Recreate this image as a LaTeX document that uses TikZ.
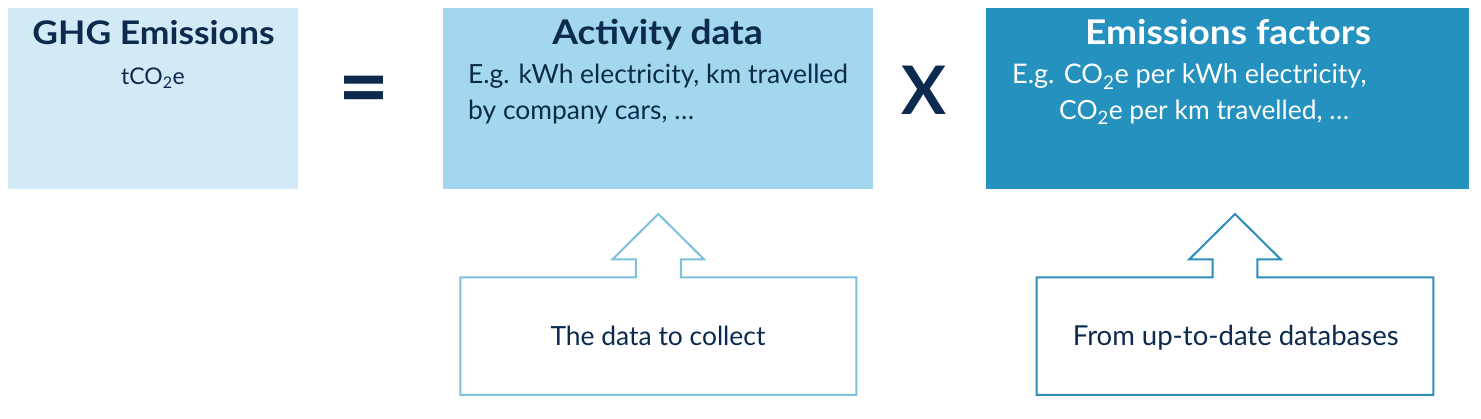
\documentclass[tikz,border=0pt]{standalone}
\usepackage{fontspec}
\setmainfont{Lato}
\newfontfamily\titlefont{Lato}[FakeStretch=1.09]
\usetikzlibrary{calc}
\definecolor{navy}{HTML}{0B2A4E}
\definecolor{boxA}{HTML}{D1EAF5}
\definecolor{boxB}{HTML}{A2D7EE}
\definecolor{boxC}{HTML}{2491BF}
\definecolor{lineA}{HTML}{7DC0DE}
\definecolor{lineB}{HTML}{2C8DB9}
\begin{document}
\begin{tikzpicture}[x=1pt,y=-1pt,
  panel/.style={inner sep=0pt, outer sep=0pt, anchor=north west, draw=none},
  titletext/.style={inner sep=0pt, anchor=base, text=navy, font=\titlefont\fontsize{34}{40}\selectfont\bfseries},
  bodytext/.style={inner sep=0pt, anchor=base west, text=navy, font=\fontsize{26.4}{30}\selectfont},
  optext/.style={inner sep=0pt, text=navy, font=\fontsize{67}{70}\selectfont\bfseries},
  outl/.style={line width=2pt, line join=miter}]
\useasboundingbox (0,0) rectangle (1481,419);
% top panels
\node[panel, fill=boxA, minimum width=290pt, minimum height=181pt] (ghg) at (8,8) {};
\node[panel, fill=boxB, minimum width=430pt, minimum height=181pt] (act) at (443,8) {};
\node[panel, fill=boxC, minimum width=483pt, minimum height=181pt] (fac) at (986,8) {};
% titles
\node[titletext, font=\titlefont\fontsize{32.5}{38}\selectfont\bfseries] (ghgt) at (153.5,45) {GHG Emissions};
\node[inner sep=0pt, anchor=base, text=navy, font=\fontsize{23}{26}\selectfont] (ghgu) at (153,85) {tCO\textsubscript{2}e};
\node[titletext] (actt) at (657.5,45) {Activity data};
\node[titletext, text=white] (fact) at (1228,45) {Emissions factors};
% body
\node[bodytext] (act1) at (468,84) {E.g. kWh electricity, km travelled};
\node[bodytext] (act2) at (468,120) {by company cars, \dots};
\node[bodytext, text=white, font=\fontsize{27}{30}\selectfont] (fac1) at (1012,84) {E.g. CO\textsubscript{2}e per kWh electricity,};
\node[bodytext, text=white] (fac2) at (1059,120) {CO\textsubscript{2}e per km travelled, \dots};
% operators
\node[optext, font=\fontsize{88}{90}\selectfont\bfseries] (eq) at (364,96.5) {=};
\node[optext] (times) at (924,90) {X};
% bottom boxes
\node[panel, minimum width=396pt, minimum height=117.5pt] (collect) at (460.3,277.3) {};
\node[panel, minimum width=396.6pt, minimum height=117.7pt] (db) at (1036.7,277.3) {};
\draw[outl, lineA] (collect.north west) -- ([xshift=-22.5pt]collect.north) -- ++(0,-18) -- ++(-23.2,0)
  -- ([yshift=63.3pt]collect.north) -- ++(45.7,45.3) -- ++(-23.2,0) -- ++(0,18)
  -- (collect.north east) -- (collect.south east) -- (collect.south west) -- cycle;
\draw[outl, lineB] (db.north west) -- ([xshift=-22.3pt]db.north) -- ++(0,-18) -- ++(-23.4,0)
  -- ([yshift=63.3pt]db.north) -- ++(45.7,45.3) -- ++(-23.4,0) -- ++(0,18)
  -- (db.north east) -- (db.south east) -- (db.south west) -- cycle;
\node[bodytext, anchor=base] (collectt) at (658,346) {The data to collect};
\node[bodytext, anchor=base, font=\fontsize{27.5}{30}\selectfont] (dbt) at (1235.7,346) {From up-to-date databases};
\end{tikzpicture}
\end{document}
